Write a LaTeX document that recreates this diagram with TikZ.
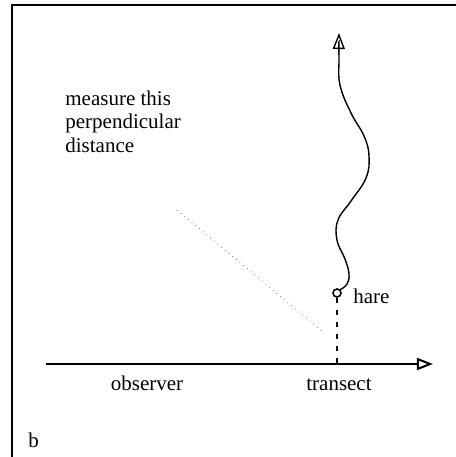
\documentclass[tikz,border=0pt]{standalone}
\usepackage{fontspec}
\setmainfont{Liberation Serif}
\usetikzlibrary{arrows.meta}

\begin{document}
\begin{tikzpicture}[x=0.5pt, y=-0.5pt,
    lbl/.style={font=\fontsize{10.5}{11.75}\selectfont, inner sep=0pt},
    tip/.style={-{Triangle[open,length=8pt,width=6pt]}},
    frame/.style={line width=0.9pt}]
    \useasboundingbox (0,0) rectangle (456,457);
    % Frame
    \draw[frame] (456,5) -- (12,5) -- (12,457);

    % Transect
    \coordinate (start) at (46,364);
    \coordinate (end) at (433,364);
    \draw[tip, line width=1pt] (start) -- (end);
    \node[lbl, anchor=base] (obs) at (147,390) {observer};
    \node[lbl, anchor=base] (tr) at (339,390) {transect};

    % Hare and its path
    \node[circle, draw, thick, minimum size=4pt, inner sep=0pt] (hare) at (337,293) {};
    \node[lbl, anchor=base west] (harelbl) at (353,303) {hare};
    \coordinate (top) at (339,33);
    \draw[tip, line width=0.7pt] plot[smooth, tension=0.7] coordinates {(hare.north east) (347,284) (349,274) (345,259) (337,240) (338,220) (351,201) (366,178) (369,156) (364,136) (351,113) (340,85) (339,58) (top)};

    % Perpendicular distance
    \draw[thick, dash pattern=on 2.5pt off 3.5pt] (hare.south) -- (hare |- end);
    \node[lbl, anchor=base west, align=left] (note) at (65,152) {measure this\\perpendicular\\distance};
    \coordinate (leadA) at (177,210);
    \coordinate (leadB) at (323,332);
    \draw[gray, dotted, thin] (leadA) -- (leadB);

    \node[lbl, anchor=base west] (panel) at (28,447) {b};
\end{tikzpicture}
\end{document}
